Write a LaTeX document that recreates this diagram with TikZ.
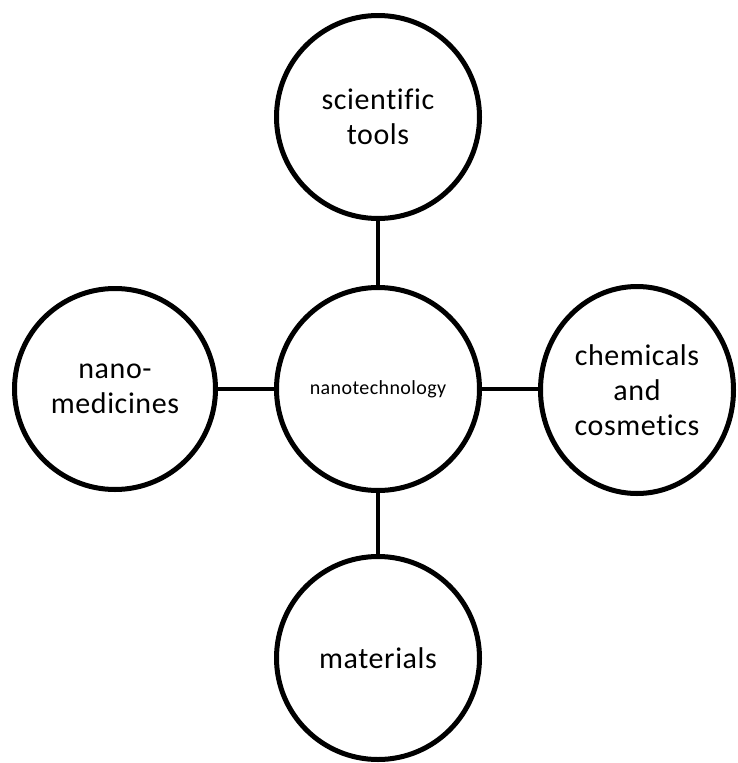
\documentclass[tikz,border=0pt]{standalone}
\usepackage{fontspec}
\setmainfont[Ligatures=NoCommon,LetterSpace=2]{Carlito}
\usetikzlibrary{shapes.geometric}
\begin{document}
\begin{tikzpicture}[x=1pt,y=-1pt,
  bubble/.style={circle,draw=black,line width=5pt,minimum size=203pt,inner sep=0pt,align=center,
    font=\fontsize{30}{35}\selectfont},
  link/.style={line width=4.5pt}]
\useasboundingbox[fill=white] (0,0) rectangle (738,763);
\node[bubble] (top) at (378,117) {scientific\\tools};
\node[bubble,font=\fontsize{20}{23}\selectfont] (mid) at (378,389) {nanotechnology};
\node[bubble,minimum size=201pt] (left) at (115,389) {nano-\\medicines};
\node[ellipse,draw=black,line width=5pt,minimum width=193pt,minimum height=207pt,inner sep=0pt,align=center,
    font=\fontsize{30}{35}\selectfont] (right) at (637,390) {chemicals\\and\\cosmetics};
\node[bubble] (bot) at (378,658) {materials};
\draw[link] (top) -- (mid);
\draw[link] (mid) -- (bot);
\draw[link] (left.east) -- (mid.west);
\draw[link] (mid.east) -- (mid.east -| right.west);
\end{tikzpicture}
\end{document}
